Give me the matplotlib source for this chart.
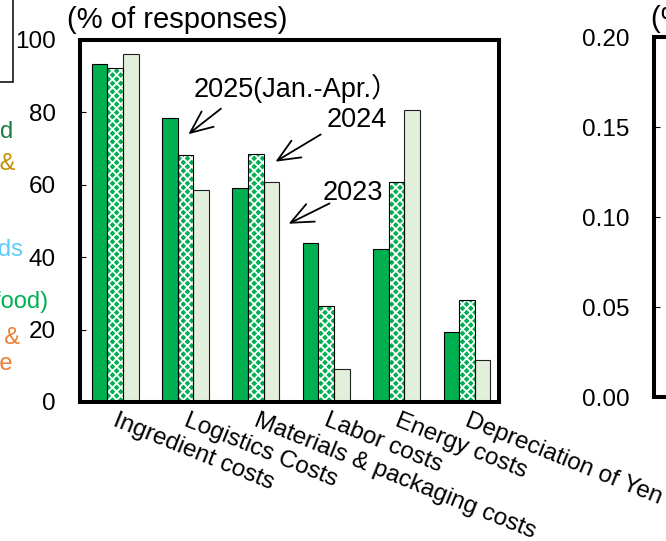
import matplotlib
matplotlib.use("Agg")
import matplotlib.pyplot as plt
from matplotlib.patches import Rectangle
from matplotlib.ticker import FormatStrFormatter
import numpy as np

plt.rcParams["font.family"] = ["Liberation Sans", "Noto Sans CJK JP", "DejaVu Sans"]
plt.rcParams["hatch.linewidth"] = 1.3

# ---- data -------------------------------------------------------------
categories = [
    "Ingredient costs",
    "Logistics Costs",
    "Materials & packaging costs",
    "Labor costs",
    "Energy costs",
    "Depreciation of Yen",
]
series_names = ["2025(Jan.-Apr.）", "2024", "2023"]
values_2025 = [93.5, 78.5, 59.2, 44.0, 42.4, 19.3]
values_2024 = [92.3, 68.2, 68.5, 26.6, 60.8, 28.2]
values_2023 = [96.1, 58.5, 60.8, 9.2, 80.7, 11.5]
y_ticks = [0, 20, 40, 60, 80, 100]
right_ticks = [0.00, 0.05, 0.10, 0.15, 0.20]

# neighbouring panel labels (legend text of the panel on the left)
side_labels = [
    ("Processed food", "#1E7B45", 132),
    ("Alcoholic beverages &", "#BF9000", 164),
    ("Frozen foods", "#5BCBFA", 250),
    ("Raw materials (processed food)", "#00B050", 302),
    ("Dairy products &", "#ED7D31", 338),
    ("margarine", "#ED7D31", 364),
]
side_label_right = [13, 15, 23, 48, 20, 13]

# ---- styling ----------------------------------------------------------
W, H = 666, 541
DARK = "#00B050"
LIGHT = "#E2EFDA"
SPINE_LW = 2.9
bar_w = 0.222

fig = plt.figure(figsize=(W / 100, H / 100), dpi=100)

def fx(px):
    return px / W

def fy(py):
    return 1 - py / H

ax = fig.add_axes([fx(80), fy(402), fx(499) - fx(80), fy(40) - fy(402)])
x = np.arange(len(categories))

ax.bar(x - bar_w, values_2025, bar_w, color=DARK, edgecolor="black",
       linewidth=0.8, zorder=2)
# checkered bars: green fill with white hatch, then a black outline
ax.bar(x, values_2024, bar_w, color=DARK, edgecolor="white", hatch="xxxx",
       linewidth=0, zorder=2)
ax.bar(x, values_2024, bar_w, fill=False, edgecolor="black", linewidth=0.8,
       zorder=3)
ax.bar(x + bar_w, values_2023, bar_w, color=LIGHT, edgecolor="#222222",
       linewidth=0.8, zorder=2)

ax.set_xlim(-0.5, 5.455)
ax.set_ylim(0, 100)
ax.set_yticks(y_ticks)
ax.tick_params(axis="y", direction="in", length=4.3, width=0.8,
               labelsize=17.5, pad=17.5)
ax.set_xticks([])
for s in ax.spines.values():
    s.set_linewidth(SPINE_LW)

# rotated category labels, starting at each group centre
for i, lab in enumerate(categories):
    ax.text(x[i] + 0.05, -0.02, lab,
            transform=ax.get_xaxis_transform(), rotation=-22,
            rotation_mode="anchor", ha="left", va="top", fontsize=17.5,
            clip_on=False)

# series call-outs
arrow_kw = dict(arrowstyle="->,head_length=0.8,head_width=0.35",
                color="black", lw=1.3, mutation_scale=20)
ax.text(1.108, 86.5, series_names[0], fontsize=19.5, va="center", ha="left")
ax.annotate("", xy=(1.009, 73.5), xytext=(1.534, 81.5), arrowprops=arrow_kw)
ax.text(3.011, 77.9, series_names[1], fontsize=19.5, va="center", ha="left")
ax.annotate("", xy=(2.244, 66.0), xytext=(2.955, 74.3), arrowprops=arrow_kw)
ax.text(2.955, 57.7, series_names[2], fontsize=19.5, va="center", ha="left")
ax.annotate("", xy=(2.429, 48.9), xytext=(3.082, 55.2), arrowprops=arrow_kw)

fig.text(fx(67), fy(20), "(% of responses)", fontsize=21, ha="left",
         va="center")

# panel on the right, mostly outside the canvas
ax2 = fig.add_axes([fx(654), fy(397), 0.6, fy(37) - fy(397)])
ax2.set_ylim(0, 0.2)
ax2.set_yticks(right_ticks)
ax2.yaxis.set_major_formatter(FormatStrFormatter("%.2f"))
ax2.tick_params(axis="y", direction="in", length=4.3, width=0.8,
                labelsize=17.5, pad=17.5)
ax2.set_xticks([])
for s in ax2.spines.values():
    s.set_linewidth(SPINE_LW)
fig.text(fx(651), fy(19), "(% of responses)", fontsize=21, ha="left",
         va="center")

# panel on the left: legend box and line labels
fig.patches.append(Rectangle((fx(-200), fy(82)), fx(213), fy(-100) - fy(82),
                             transform=fig.transFigure, fill=False,
                             edgecolor="black", linewidth=1.1))
for (txt, col, py), pr in zip(side_labels, side_label_right):
    fig.text(fx(pr), fy(py), txt, color=col, fontsize=17, ha="right",
             va="center")

fig.savefig("out.png", dpi=100)
